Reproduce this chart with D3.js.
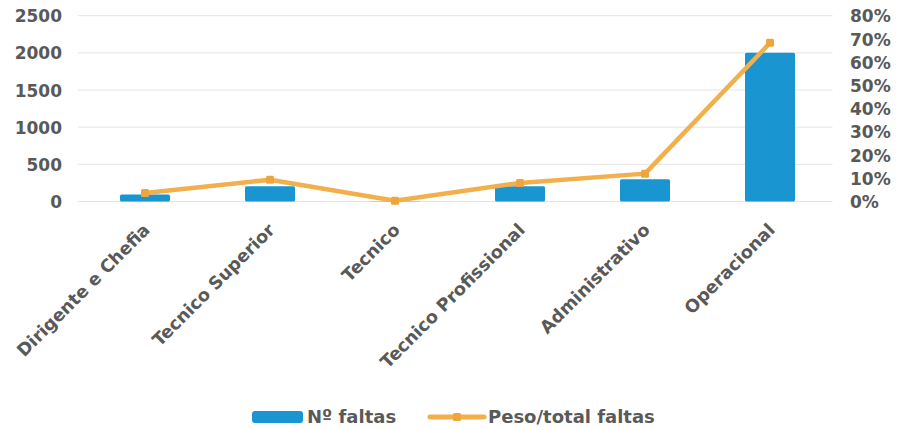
<!DOCTYPE html>
<html>
<head>
<meta charset="utf-8">
<script src="https://cdn.jsdelivr.net/npm/d3@7"></script>
<style>
  html, body { margin: 0; padding: 0; background: #fff; }
  svg text { font-family: "DejaVu Sans", sans-serif; font-weight: bold; fill: #595959; }
</style>
</head>
<body>
<svg id="chart" width="898" height="430"></svg>
<script>
// Absences by staff group: count (bars) and share of total (line)
const categories = ["Dirigente e Chefia", "Tecnico Superior", "Tecnico", "Tecnico Profissional", "Administrativo", "Operacional"];
const faltas = [95, 205, 5, 205, 300, 2000];
const peso = [0.037, 0.094, 0.003, 0.080, 0.120, 0.683];
const leftTicks = [0, 500, 1000, 1500, 2000, 2500];
const rightTicks = [0, 0.1, 0.2, 0.3, 0.4, 0.5, 0.6, 0.7, 0.8];
const seriesNames = ["Nº faltas", "Peso/total faltas"];

const barColor = "#1996D1";
const lineColor = "#F1B04B";
const markerColor = "#EEA53E";

const svg = d3.select("#chart");
const plot = { left: 82.5, right: 832.5, top: 15.7, bottom: 201.5 };

const x = d3.scaleBand().domain(categories).range([plot.left, plot.right]).paddingInner(0.6).paddingOuter(0.3);
const y = d3.scaleLinear().domain([0, 2500]).range([plot.bottom, plot.top]);
const y2 = d3.scaleLinear().domain([0, 0.8]).range([plot.bottom, plot.top]);

// horizontal gridlines
svg.append("g").selectAll("line").data(leftTicks).join("line")
  .attr("x1", 78).attr("x2", plot.right)
  .attr("y1", d => y(d)).attr("y2", d => y(d))
  .attr("stroke", "#e4e4e4").attr("stroke-width", 1);

// left axis
const leftAxis = svg.append("g").attr("transform", "translate(62,0)")
  .call(d3.axisLeft(y).tickValues(leftTicks).tickSize(0).tickPadding(0).tickFormat(d3.format("d")));
leftAxis.select(".domain").remove();
leftAxis.selectAll("text").style("font-size", "17px").attr("dy", "0.36em");

// right axis
const rightAxis = svg.append("g").attr("transform", "translate(850,0)")
  .call(d3.axisRight(y2).tickValues(rightTicks).tickSize(0).tickPadding(0).tickFormat(d3.format(".0%")));
rightAxis.select(".domain").remove();
rightAxis.selectAll("text").style("font-size", "17px").attr("dy", "0.36em");

// bars
svg.append("g").selectAll("rect").data(categories).join("rect")
  .attr("x", d => x(d))
  .attr("width", x.bandwidth())
  .attr("y", (d, i) => y(faltas[i]))
  .attr("height", (d, i) => y(0) - y(faltas[i]))
  .attr("rx", 1.5)
  .attr("fill", barColor);

// share line
const pts = categories.map((c, i) => [x(c) + x.bandwidth() / 2, y2(peso[i])]);
svg.append("path").datum(pts)
  .attr("d", d3.line())
  .attr("fill", "none").attr("stroke", lineColor)
  .attr("stroke-width", 4.5).attr("stroke-linejoin", "round").attr("stroke-linecap", "round");
svg.append("g").selectAll("rect").data(pts).join("rect")
  .attr("x", d => d[0] - 4).attr("y", d => d[1] - 4)
  .attr("width", 8).attr("height", 8).attr("rx", 1.5)
  .attr("fill", markerColor);

// category labels, rotated
svg.append("g").selectAll("text").data(categories).join("text")
  .attr("transform", d => `translate(${x(d) + x.bandwidth() / 2 + 6},${231}) rotate(-45)`)
  .attr("text-anchor", "end")
  .style("font-size", "17.6px")
  .text(d => d);

// legend
const lg = svg.append("g");
lg.append("rect").attr("x", 252).attr("y", 411).attr("width", 51).attr("height", 12).attr("rx", 3).attr("fill", barColor);
lg.append("text").attr("x", 307).attr("y", 423).style("font-size", "18px").text(seriesNames[0]);
lg.append("line").attr("x1", 430).attr("x2", 484).attr("y1", 417).attr("y2", 417)
  .attr("stroke", lineColor).attr("stroke-width", 5).attr("stroke-linecap", "round");
lg.append("rect").attr("x", 453).attr("y", 413).attr("width", 8).attr("height", 8).attr("rx", 1.5).attr("fill", markerColor);
lg.append("text").attr("x", 488).attr("y", 423).style("font-size", "18px").text(seriesNames[1]);
</script>
</body>
</html>
